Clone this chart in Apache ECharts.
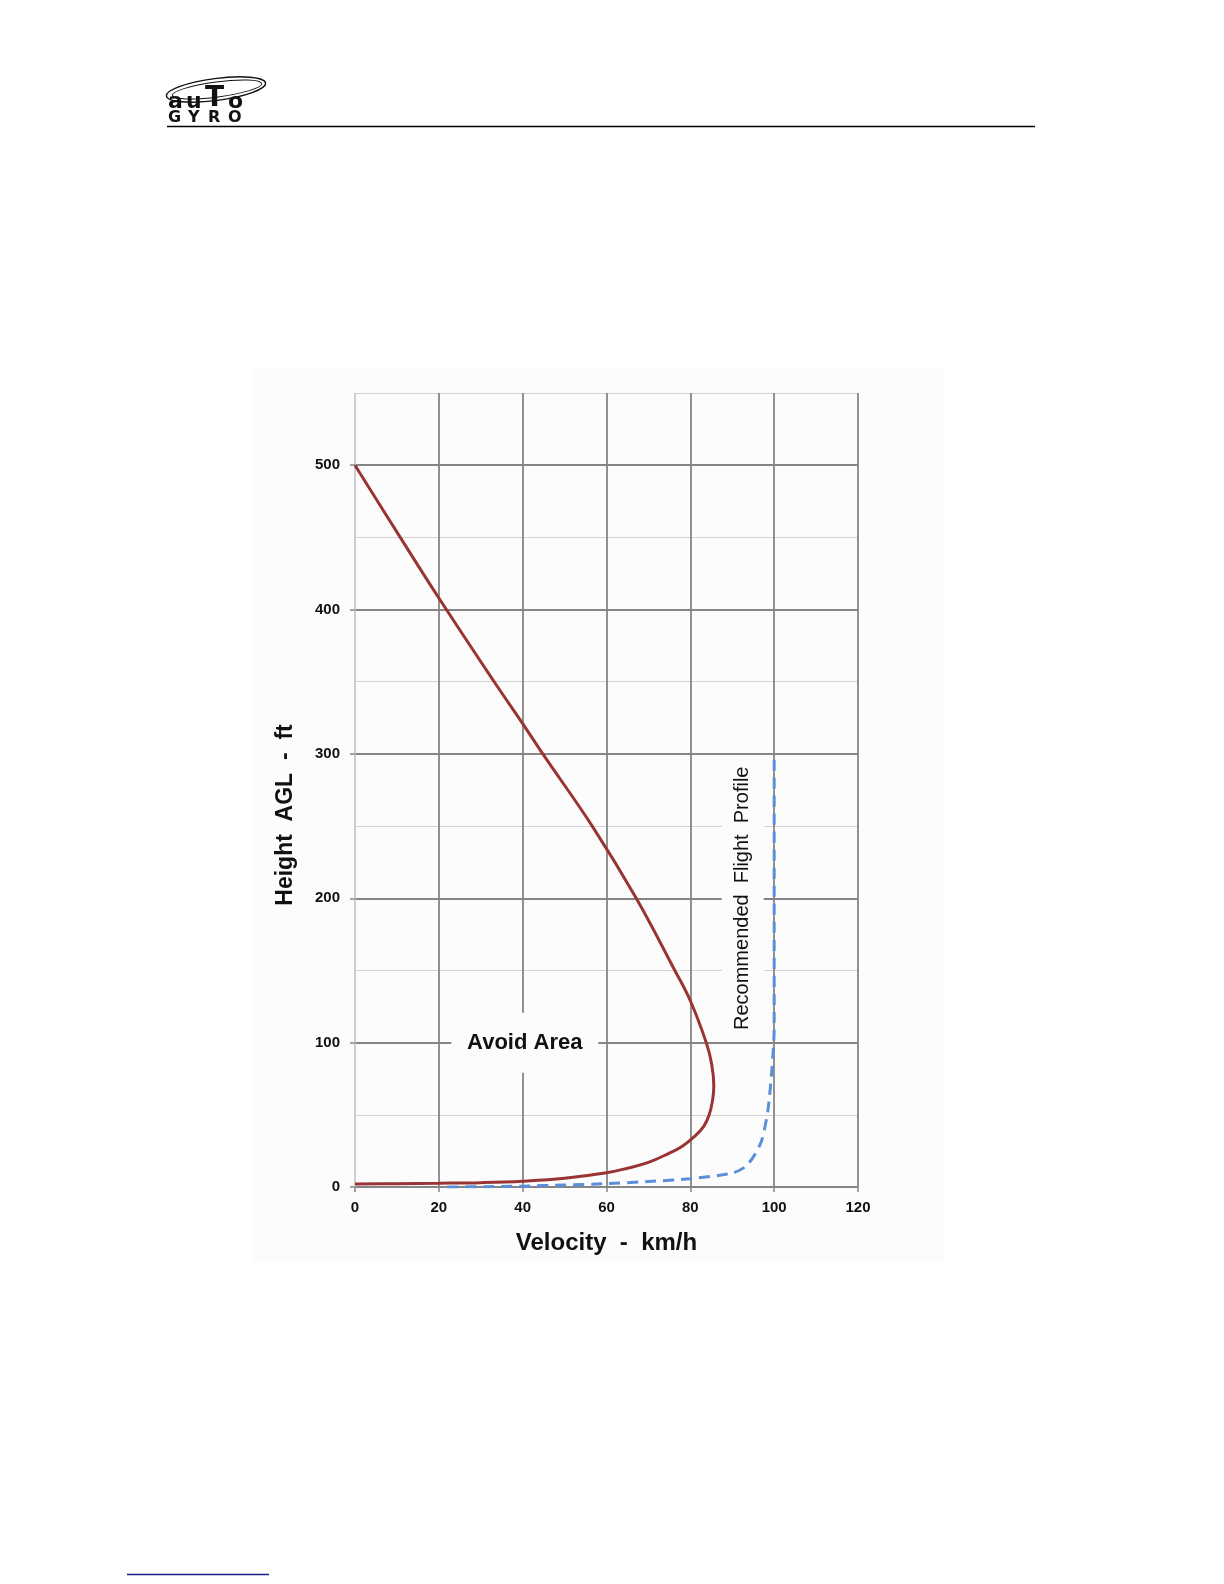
<!DOCTYPE html>
<html>
<head>
<meta charset="utf-8">
<script src="https://cdn.jsdelivr.net/npm/echarts@6/dist/echarts.min.js"></script>
<style>
html,body{margin:0;padding:0;background:#ffffff;}
#chart{width:1224px;height:1584px;}
</style>
</head>
<body>
<div id="chart"></div>
<script>
// ---- data ----
const avoidVelocity = [0, 10.8, 20, 33.2, 40, 44.8, 56.6, 67.1, 76.3, 80, 83.8, 85.1, 85.6, 85.3, 84.5, 83.2, 81, 78, 75, 70, 65, 60, 50, 40, 30, 20, 10, 0];
const avoidHeight   = [500, 450, 408, 350, 321, 300, 250, 200, 150, 129, 100, 85, 70, 60, 50, 42, 35, 28, 23.5, 17, 13, 9.8, 6, 4, 3, 2.6, 2.3, 2];

const profileVelocity = [22, 30, 40, 50, 60, 70, 80, 90, 93, 95, 97, 98.5, 99.5, 100, 100];
const profileHeight   = [0, 0.2, 0.6, 1.4, 2.3, 3.8, 5.7, 9.6, 13.8, 20.7, 32, 53, 83, 110, 300];

const avoidLabelText = 'Avoid Area';
const avoidLabelAt = [40.5, 100];
const profileLabelText = 'Recommended  Flight  Profile';
const profileLabelAt = [92.5, 200];

const xTitle = 'Velocity  -  km/h';
const yTitle = 'Height  AGL  -  ft';

// ---- chart ----
const zip = (a, b) => a.map((v, i) => [v, b[i]]);
const FONT = '"Liberation Sans", Arial, sans-serif';
const DARK = '#858585';
const LIGHT = '#d2d2d2';
const BG = '#fcfcfc';

const gridLeft = 355, gridTop = 393, gridW = 503, gridH = 794;
const yMax = 550;

const logoFont = (s) => 'bold ' + s + 'px "DejaVu Sans", sans-serif';
const glyph = (t, x, y, s) => ({type: 'text', x: x, y: y, style: {text: t, font: logoFont(s), fill: '#111', textVerticalAlign: 'bottom'}});

const chart = echarts.init(document.getElementById('chart'), null, {renderer: 'canvas'});
chart.setOption({
  animation: false,
  backgroundColor: '#ffffff',
  grid: [
    {left: gridLeft, top: gridTop, width: gridW, height: gridH},
    {left: gridLeft, top: gridTop + gridH * 50 / yMax, width: gridW, height: gridH * 500 / yMax}
  ],
  xAxis: [
    {
      type: 'value', gridIndex: 0, min: 0, max: 120, interval: 20,
      axisLine: {show: false},
      axisTick: {show: true, length: 5, lineStyle: {color: DARK, width: 1.5}},
      axisLabel: {margin: 13, fontFamily: FONT, fontWeight: 'bold', fontSize: 15, color: '#111'},
      splitLine: {show: true, lineStyle: {color: ['#c9c9c9', DARK, DARK, DARK, DARK, DARK, DARK], width: 1.8}},
      name: xTitle, nameLocation: 'middle', nameGap: 44,
      nameTextStyle: {fontFamily: FONT, fontWeight: 'bold', fontSize: 24, color: '#111'}
    },
    {
      type: 'value', gridIndex: 1, min: 0, max: 120, interval: 20, show: false
    }
  ],
  yAxis: [
    {
      type: 'value', gridIndex: 0, min: 0, max: yMax, interval: 50,
      axisLine: {show: false}, axisTick: {show: false}, axisLabel: {show: false},
      splitLine: {show: true, lineStyle: {color: LIGHT, width: 1.2}}
    },
    {
      type: 'value', gridIndex: 1, min: 0, max: 500, interval: 100,
      axisLine: {show: false},
      axisTick: {show: true, length: 5, lineStyle: {color: DARK, width: 1.5}},
      axisLabel: {margin: 15, fontFamily: FONT, fontWeight: 'bold', fontSize: 15, color: '#111'},
      splitLine: {show: true, lineStyle: {color: DARK, width: 1.8}}
    }
  ],
  graphic: [
    {type: 'rect', z: -10, shape: {x: 252, y: 368, width: 692, height: 894}, style: {fill: BG}},
    {type: 'line', shape: {x1: 167, y1: 126.5, x2: 1035, y2: 126.5}, style: {stroke: '#000', lineWidth: 1.5}},
    {type: 'line', shape: {x1: 127, y1: 1574.5, x2: 269, y2: 1574.5}, style: {stroke: '#1a1a8a', lineWidth: 1.5}},
    {type: 'ellipse', x: 216, y: 89.5, rotation: 0.13, shape: {cx: 0, cy: 0, rx: 50, ry: 11}, style: {fill: 'none', stroke: '#111', lineWidth: 1.4}},
    {type: 'ellipse', x: 217, y: 89.5, rotation: 0.13, shape: {cx: 0, cy: 0, rx: 45, ry: 7.5}, style: {fill: 'none', stroke: '#111', lineWidth: 1}},
    glyph('a', 168, 113, 22),
    glyph('u', 186, 113, 22),
    glyph('T', 205, 113, 28),
    glyph('o', 228, 113, 22),
    glyph('G', 168, 126, 16),
    glyph('Y', 188, 126, 16),
    glyph('R', 208, 126, 16),
    glyph('O', 228, 126, 16),
    {type: 'text', x: 286, y: 815, rotation: Math.PI / 2,
      style: {text: yTitle, font: 'bold 23px "Liberation Sans", Arial', fill: '#111', textAlign: 'center', textVerticalAlign: 'middle'}}
  ],
  series: [
    {
      type: 'line', xAxisIndex: 0, yAxisIndex: 0, data: zip(avoidVelocity, avoidHeight),
      showSymbol: false, symbol: 'none', smooth: 0.4, z: 3,
      lineStyle: {color: '#9a3434', width: 3}
    },
    {
      type: 'line', xAxisIndex: 0, yAxisIndex: 0, data: zip(profileVelocity, profileHeight),
      showSymbol: false, symbol: 'none', smooth: 0.25, z: 3,
      lineStyle: {color: '#5a8fd9', width: 3, type: [11, 7]}
    },
    {
      type: 'scatter', xAxisIndex: 0, yAxisIndex: 0, data: [avoidLabelAt], silent: true, z: 4,
      symbol: 'rect', symbolSize: [147, 60], itemStyle: {color: BG, opacity: 1},
      label: {show: true, position: 'inside', formatter: avoidLabelText, fontFamily: FONT, fontWeight: 'bold', fontSize: 22, color: '#111'}
    },
    {
      type: 'scatter', xAxisIndex: 0, yAxisIndex: 0, data: [profileLabelAt], silent: true, z: 4,
      symbol: 'rect', symbolSize: [42, 276], itemStyle: {color: BG, opacity: 1},
      label: {show: true, position: 'inside', rotate: 90, formatter: profileLabelText, fontFamily: FONT, fontWeight: 'normal', fontSize: 20, color: '#111'}
    }
  ]
});
</script>
</body>
</html>
